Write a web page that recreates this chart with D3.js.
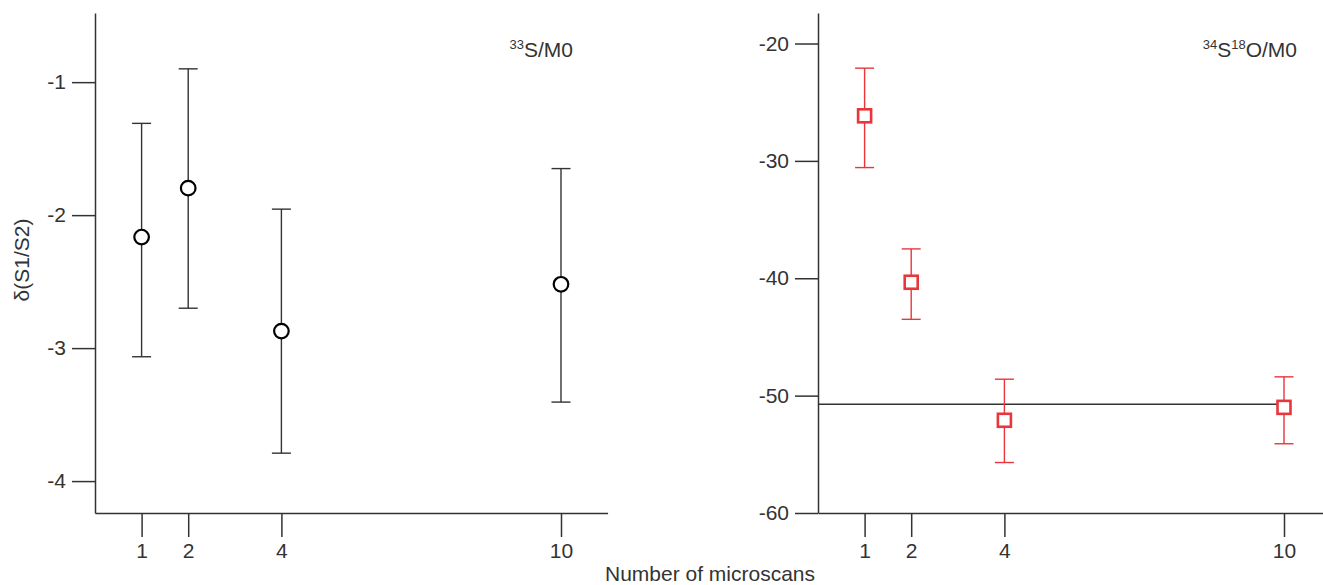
<!DOCTYPE html>
<html>
<head>
<meta charset="utf-8">
<script src="https://cdn.jsdelivr.net/npm/d3@7"></script>
<style>
  body { margin: 0; background: #fff; }
  text { font-family: "Liberation Sans", Arial, Helvetica, sans-serif; fill: #333; }
  .axis path, .axis line { stroke: #333; stroke-width: 1.5; }
</style>
</head>
<body>
<div id="chart"></div>
<script>
const scans = [1, 2, 4, 10];

// 33S/M0 panel
const s33Mean = [-2.165, -1.797, -2.872, -2.52];
const s33Low  = [-3.065, -2.70, -3.79, -3.406];
const s33High = [-1.31, -0.90, -1.955, -1.65];
const s33Ticks = [-1, -2, -3, -4];

// 34S18O/M0 panel
const s34Mean = [-26.16, -40.34, -52.1, -51.0];
const s34Low  = [-30.57, -43.5, -55.7, -54.1];
const s34High = [-22.1, -37.5, -48.6, -48.4];
const s34Ticks = [-20, -30, -40, -50, -60];
const s34Ref = -50.74;

const xTicks = [1, 2, 4, 10];

const width = 1323, height = 585;
const svg = d3.select("#chart").append("svg")
  .attr("width", width).attr("height", height);

const red = "#e8363c";
const fmt = d => String(d); // plain hyphen minus, no decimals

function panel(opts) {
  const x = d3.scaleLinear([0, 11], [opts.left, opts.left + 11 * 46.6]);
  const y = d3.scaleLinear(opts.yDomain, [513, 13]);
  const g = svg.append("g");

  // y axis
  g.append("g").attr("class", "axis")
    .attr("transform", `translate(${opts.left},0)`)
    .call(d3.axisLeft(y).tickValues(opts.yTicks).tickFormat(fmt)
      .tickSize(23).tickSizeOuter(0).tickPadding(6))
    .call(a => a.selectAll("text").attr("font-size", 21).attr("fill", "#333"));

  // x axis
  g.append("g").attr("class", "axis")
    .attr("transform", `translate(0,513)`)
    .call(d3.axisBottom(x).tickValues(xTicks).tickFormat(fmt)
      .tickSize(24).tickSizeOuter(0).tickPadding(6))
    .call(a => a.selectAll("text").attr("font-size", 21).attr("fill", "#333"));

  if (opts.ref !== undefined) {
    g.append("line")
      .attr("x1", x(0)).attr("x2", x(10))
      .attr("y1", y(opts.ref)).attr("y2", y(opts.ref))
      .attr("stroke", "#333").attr("stroke-width", 1.5);
  }

  const pts = scans.map((s, i) => ({ s, m: opts.mean[i], lo: opts.low[i], hi: opts.high[i] }));
  const err = g.selectAll(".err").data(pts).join("g")
    .attr("stroke", opts.color).attr("stroke-width", 1.4);
  err.append("line")
    .attr("x1", d => x(d.s)).attr("x2", d => x(d.s))
    .attr("y1", d => y(d.lo)).attr("y2", d => y(d.hi));
  err.append("line")
    .attr("x1", d => x(d.s) - 9.5).attr("x2", d => x(d.s) + 9.5)
    .attr("y1", d => y(d.lo)).attr("y2", d => y(d.lo));
  err.append("line")
    .attr("x1", d => x(d.s) - 9.5).attr("x2", d => x(d.s) + 9.5)
    .attr("y1", d => y(d.hi)).attr("y2", d => y(d.hi));

  if (opts.marker === "circle") {
    g.selectAll(".pt").data(pts).join("circle")
      .attr("cx", d => x(d.s)).attr("cy", d => y(d.m)).attr("r", 7.3)
      .attr("fill", "#fff").attr("stroke", "#000").attr("stroke-width", 2.2);
  } else {
    g.selectAll(".pt").data(pts).join("rect")
      .attr("x", d => x(d.s) - 6.5).attr("y", d => y(d.m) - 6.5)
      .attr("width", 13).attr("height", 13)
      .attr("fill", "#fff").attr("stroke", red).attr("stroke-width", 2.6);
  }

  // label with superscripts: [text, isSup]
  const lab = g.append("text")
    .attr("x", opts.labelX).attr("y", 57)
    .attr("text-anchor", "end").attr("font-size", 21);
  let up = false;
  opts.label.forEach(p => {
    const t = lab.append("tspan").text(p[0])
      .attr("font-size", p[1] ? 13 : 21);
    if (p[1] && !up) { t.attr("dy", -8); up = true; }
    else if (!p[1] && up) { t.attr("dy", 8); up = false; }
  });
}

panel({
  left: 95, yDomain: [-4.24, -0.48], yTicks: s33Ticks,
  mean: s33Mean, low: s33Low, high: s33High,
  color: "#333", marker: "circle", labelX: 573,
  label: [["33", true], ["S/M0", false]]
});

panel({
  left: 818, yDomain: [-60, -17.4], yTicks: s34Ticks,
  mean: s34Mean, low: s34Low, high: s34High,
  color: red, marker: "square", labelX: 1297, ref: s34Ref,
  label: [["34", true], ["S", false], ["18", true], ["O/M0", false]]
});

svg.append("text")
  .attr("transform", "translate(29,260) rotate(-90)")
  .attr("text-anchor", "middle").attr("font-size", 21)
  .text("δ(S1/S2)");

svg.append("text")
  .attr("x", 710).attr("y", 581)
  .attr("text-anchor", "middle").attr("font-size", 21)
  .text("Number of microscans");
</script>
</body>
</html>
